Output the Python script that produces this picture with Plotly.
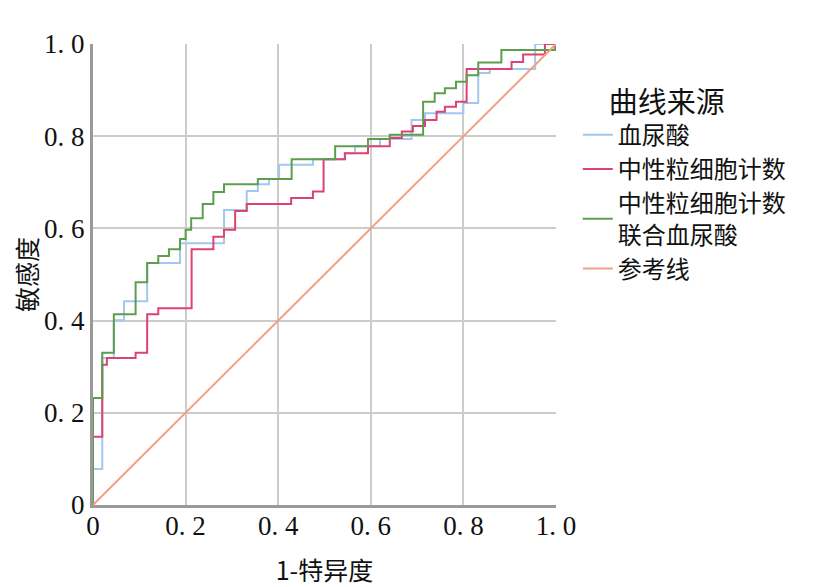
import plotly.graph_objects as go

# ROC operating points (x = 1-特异度, y = 敏感度), drawn as steps
uric_x = [0, 0, 0.02, 0.045, 0.067, 0.117, 0.188, 0.283, 0.332, 0.356, 0.38, 0.402, 0.475, 0.544, 0.566, 0.62, 0.688, 0.717, 0.8, 0.832, 0.857, 0.955, 1.0]
uric_y = [0, 0.078, 0.319, 0.401, 0.442, 0.525, 0.568, 0.64, 0.681, 0.696, 0.707, 0.738, 0.75, 0.763, 0.778, 0.794, 0.835, 0.85, 0.872, 0.937, 0.946, 1.0, 1.0]

neut_x = [0, 0, 0.02, 0.03, 0.092, 0.117, 0.141, 0.213, 0.26, 0.283, 0.307, 0.332, 0.428, 0.475, 0.498, 0.544, 0.594, 0.641, 0.667, 0.691, 0.717, 0.742, 0.76, 0.784, 0.807, 0.904, 0.929, 0.976, 1.0]
neut_y = [0, 0.148, 0.304, 0.319, 0.33, 0.414, 0.427, 0.555, 0.582, 0.597, 0.638, 0.653, 0.666, 0.68, 0.75, 0.763, 0.778, 0.796, 0.81, 0.822, 0.835, 0.853, 0.864, 0.875, 0.946, 0.961, 0.977, 1.0, 1.0]

comb_x = [0, 0, 0.02, 0.045, 0.092, 0.117, 0.141, 0.164, 0.188, 0.2, 0.212, 0.237, 0.26, 0.283, 0.356, 0.429, 0.523, 0.594, 0.641, 0.713, 0.738, 0.76, 0.784, 0.807, 0.832, 0.882, 0.998, 1.0]
comb_y = [0, 0.232, 0.33, 0.414, 0.483, 0.525, 0.54, 0.555, 0.577, 0.597, 0.622, 0.653, 0.679, 0.696, 0.707, 0.75, 0.778, 0.794, 0.803, 0.875, 0.893, 0.904, 0.918, 0.932, 0.96, 0.987, 1.0, 1.0]

ref_x = [0, 1]
ref_y = [0, 1]

names = ["血尿酸", "中性粒细胞计数", "中性粒细胞计数<br>联合血尿酸", "参考线"]
colors = ["#a3c8f0", "#dc4372", "#5c9e4e", "#f4a07c"]

tick_vals = [0, 0.2, 0.4, 0.6, 0.8, 1.0]
tick_text = ["0", "0. 2", "0. 4", "0. 6", "0. 8", "1. 0"]

fig = go.Figure()
series = [(uric_x, uric_y), (neut_x, neut_y), (comb_x, comb_y)]
for (xs, ys), nm, c in zip(series, names[:3], colors[:3]):
    fig.add_trace(go.Scatter(x=xs, y=ys, mode="lines", name=nm,
                             line=dict(color=c, width=2, shape="hv"),
                             cliponaxis=False))
fig.add_trace(go.Scatter(x=ref_x, y=ref_y, mode="lines", name=names[3],
                         line=dict(color=colors[3], width=2), cliponaxis=False))

axis_common = dict(
    range=[0, 1], tickvals=tick_vals, ticktext=tick_text,
    showgrid=True, gridcolor="#cccccc", gridwidth=2,
    showline=True, linecolor="#999999", linewidth=3,
    zeroline=False, ticks="", automargin=False,
    tickfont=dict(family="Liberation Serif", size=27, color="#111111"),
)

# page body has an 8px margin, so the figure is sized to fit the window
fig.update_layout(
    width=819, height=579,
    margin=dict(l=85, r=271, t=36, b=82),
    paper_bgcolor="white", plot_bgcolor="white",
    font=dict(family="Noto Sans CJK SC", color="#111111"),
    xaxis=dict(**axis_common, ticklabelstandoff=-5,
               title=dict(text="1-特异度", font=dict(size=25), standoff=24)),
    yaxis=dict(**axis_common,
               title=dict(text="敏感度", font=dict(size=25), standoff=18)),
    legend=dict(
        x=1.047, xanchor="left", y=0.933, yanchor="top",
        title=dict(text="\u3000曲线来源", font=dict(size=29)),
        font=dict(size=24), tracegroupgap=0,
        bgcolor="rgba(0,0,0,0)", itemwidth=30,
    ),
)

fig.write_html("out.html")
